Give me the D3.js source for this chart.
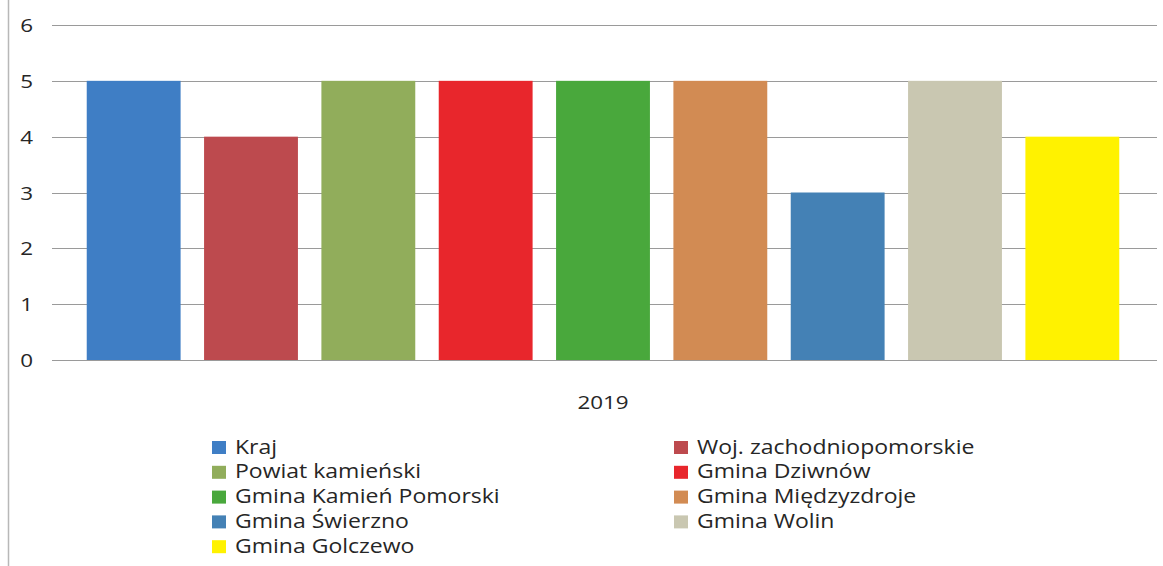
<!DOCTYPE html>
<html>
<head>
<meta charset="utf-8">
<script src="https://d3js.org/d3.v7.min.js"></script>
<style>
  body { margin: 0; background: #fff; }
  svg { display: block; }
  text { font-family: "Open Sans", sans-serif; fill: #262626; }
</style>
</head>
<body>
<svg id="chart" width="1163" height="566"></svg>
<script>
let width = 1163, height = 566;

let categories = ["Kraj", "Woj. zachodniopomorskie", "Powiat kamieński", "Gmina Dziwnów",
  "Gmina Kamień Pomorski", "Gmina Międzyzdroje", "Gmina Świerzno", "Gmina Wolin", "Gmina Golczewo"];
let values = [5, 4, 5, 5, 5, 5, 3, 5, 4];
let colors = ["#3f7ec5", "#bd4a4e", "#91ad5b", "#e8262c", "#49a83c", "#d28b53", "#4481b5", "#c9c7b1", "#fff200"];
let yearLabel = "2019";
let yTicks = [0, 1, 2, 3, 4, 5, 6];

let stretch = 1.18; // text in the scan is a bit wider than normal

let svg = d3.select("#chart");

let x = d3.scaleBand().domain(categories).range([75, 1131]).paddingInner(0.2).paddingOuter(0.1);
let y = d3.scaleLinear().domain([0, 6]).range([360, 25]);

// left frame edge
svg.append("line")
  .attr("x1", 8.5).attr("x2", 8.5).attr("y1", 0).attr("y2", height)
  .style("stroke", "#b8b8b8").style("stroke-width", 1.5);

// gridlines
svg.selectAll(".grid")
  .data(yTicks)
  .enter()
  .append("line")
  .attr("class", "grid")
  .attr("x1", 52).attr("x2", 1157)
  .attr("y1", d => Math.round(y(d)) + 0.5)
  .attr("y2", d => Math.round(y(d)) + 0.5)
  .style("stroke", "#9a9a9a")
  .style("stroke-width", 1);

// y tick labels
svg.selectAll(".ytick")
  .data(yTicks)
  .enter()
  .append("text")
  .attr("class", "ytick")
  .attr("transform", d => "translate(33," + (y(d) + 7) + ") scale(" + stretch + ",1)")
  .attr("text-anchor", "end")
  .style("font-size", "19px")
  .text(d => d);

// bars
svg.selectAll(".bar")
  .data(values)
  .enter()
  .append("rect")
  .attr("class", "bar")
  .attr("x", (d, i) => x(categories[i]))
  .attr("width", x.bandwidth())
  .attr("y", d => y(d))
  .attr("height", d => y(0) - y(d))
  .style("fill", (d, i) => colors[i]);

// category label
svg.append("text")
  .attr("transform", "translate(" + ((x.range()[0] + x.range()[1]) / 2) + ",409) scale(" + stretch + ",1)")
  .attr("text-anchor", "middle")
  .style("font-size", "19px")
  .text(yearLabel);

// legend, two columns, filled row by row
let legend = svg.append("g").attr("class", "legend");
let items = legend.selectAll(".item")
  .data(categories)
  .enter()
  .append("g")
  .attr("class", "item")
  .attr("transform", (d, i) => "translate(" + (i % 2 == 0 ? 212 : 674) + "," + (441 + Math.floor(i / 2) * 24.8) + ")");

items.append("rect")
  .attr("width", 14).attr("height", 13)
  .style("fill", (d, i) => colors[i]);

items.append("text")
  .attr("transform", "translate(23,12.5) scale(" + stretch + ",1)")
  .style("font-size", "19.5px")
  .text(d => d);
</script>
</body>
</html>
